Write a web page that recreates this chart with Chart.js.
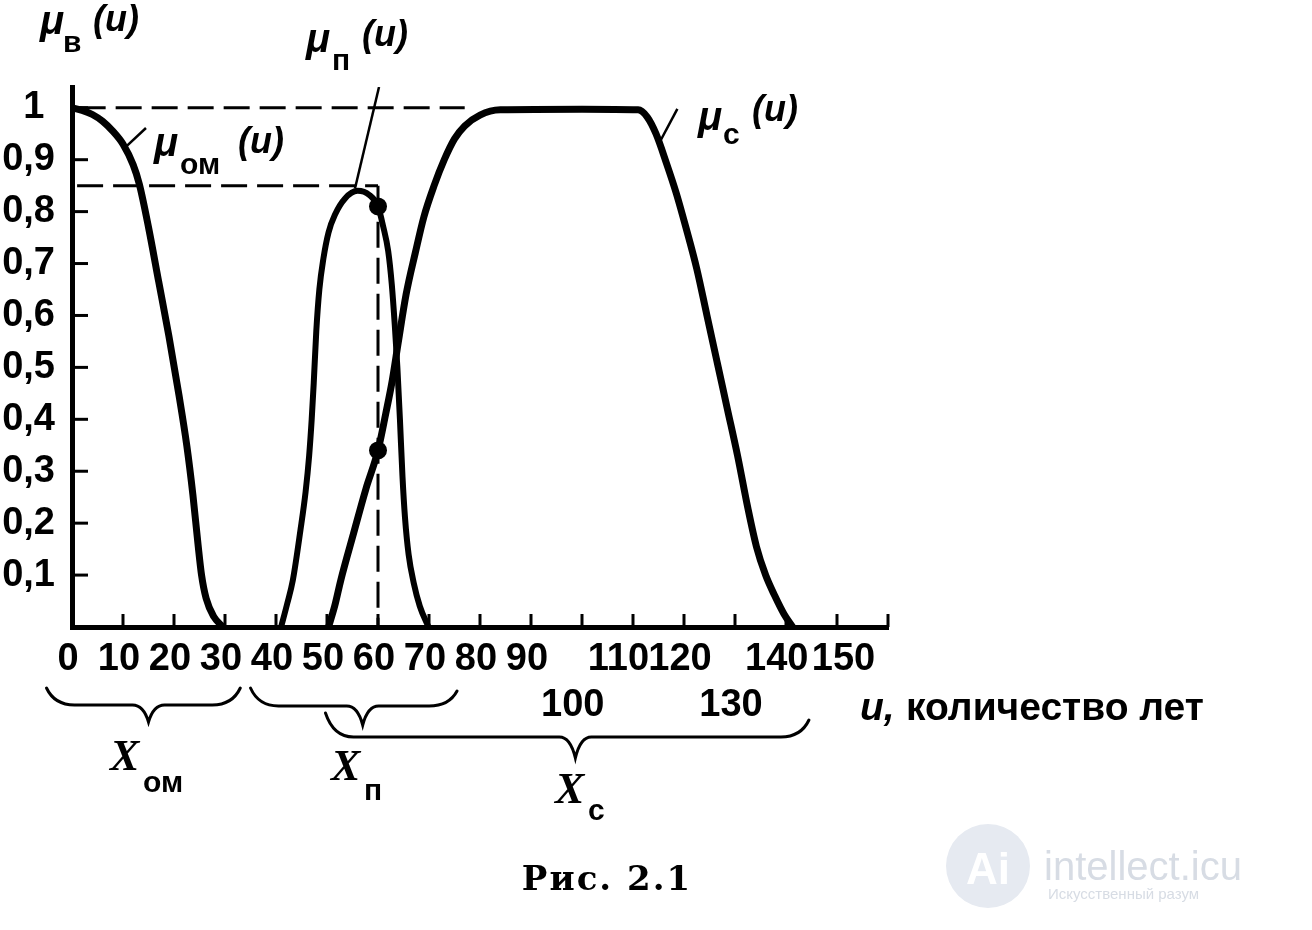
<!DOCTYPE html>
<html lang="ru">
<head>
<meta charset="utf-8">
<title>Рис. 2.1</title>
<script src="https://cdn.jsdelivr.net/npm/chart.js@4.4.1/dist/chart.umd.min.js"></script>
<style>
  html, body { margin: 0; padding: 0; background: #fff; }
  canvas { display: block; }
</style>
</head>
<body>
<canvas id="chart" width="1312" height="930"></canvas>
<script>
// u — возраст (лет), mu — степень принадлежности
const omU  = [0, 2, 4, 6, 8, 10, 12, 13.2, 15, 17, 19, 21, 22.5, 23.7, 24.7, 25.4, 26.3, 27.8, 29.6];
const omMu = [1, 0.995, 0.987, 0.974, 0.955, 0.93, 0.89, 0.853, 0.77, 0.665, 0.56, 0.445, 0.35, 0.255, 0.16, 0.1, 0.055, 0.02, 0];

const pU  = [41, 42.2, 43.3, 44.8, 45.8, 46.5, 47, 47.4, 47.9, 48.5, 49.3, 50.3, 51.6, 53.5, 56, 58.3, 60, 61, 62, 62.7, 63.3, 63.8, 64.3, 64.8, 65.3, 66, 67, 68.2, 69.9];
const pMu = [0, 0.045, 0.09, 0.187, 0.26, 0.33, 0.4, 0.47, 0.57, 0.65, 0.71, 0.76, 0.795, 0.825, 0.84, 0.832, 0.81, 0.772, 0.724, 0.66, 0.58, 0.5, 0.4, 0.29, 0.21, 0.14, 0.085, 0.04, 0];

const cU  = [50.3, 51.5, 52.7, 55.2, 57.6, 60, 61.5, 62.8, 64, 65.5, 67.3, 69, 71, 73, 75, 77, 80, 84, 100, 111, 112.8, 114.5, 116.5, 118.5, 120.5, 122.5, 124.5, 126.5, 128.5, 130.5, 132.5, 134.2, 136, 137.8, 139.6, 141.3];
const cMu = [0, 0.04, 0.09, 0.18, 0.265, 0.34, 0.41, 0.475, 0.55, 0.64, 0.72, 0.79, 0.85, 0.9, 0.94, 0.965, 0.986, 0.996, 0.997, 0.996, 0.982, 0.95, 0.895, 0.835, 0.765, 0.69, 0.6, 0.51, 0.42, 0.33, 0.23, 0.155, 0.1, 0.06, 0.025, 0];

// отмеченные точки при u = 60
const dotU  = [60, 60];
const dotMu = [0.81, 0.34];

// пунктирные линии
const dashTopU = [1.5, 77],  dashTopMu = [1, 1];
const dashMidU = [1, 60],    dashMidMu = [0.85, 0.85];
const dashVertU = [60, 60],  dashVertMu = [0.85, 0];

// выноски к подписям
const leadPU = [60.2, 55.5],   leadPMu = [1.04, 0.845];
const leadOmU = [10.6, 14.5],  leadOmMu = [0.925, 0.961];
const leadCU = [115.3, 118.7], leadCMu = [0.935, 0.998];

// оси
const xTickValues = [0, 10, 20, 30, 40, 50, 60, 70, 80, 90, 100, 110, 120, 130, 140, 150];
const xTickLabels = ['0', '10', '20', '30', '40', '50', '60', '70', '80', '90', '100', '110', '120', '130', '140', '150'];
const xMarks = [10, 20, 30, 40, 50, 60, 70, 80, 90, 100, 110, 120, 130, 140, 150, 160];
const yTickValues = [0.1, 0.2, 0.3, 0.4, 0.5, 0.6, 0.7, 0.8, 0.9, 1];
const yTickLabels = ['0,1', '0,2', '0,3', '0,4', '0,5', '0,6', '0,7', '0,8', '0,9', '1'];

// фигурные скобки: [начало, конец, острие] в годах
const braceOm = [-5, 33, 15];
const braceP  = [35, 75.5, 57];
const braceC  = [49.7, 144.5, 98.7];

const pts = (us, ms) => us.map((u, i) => ({ x: u, y: ms[i] }));

const SANS = '"Liberation Sans", Arial, sans-serif';
const SERIF = '"Liberation Serif", "Times New Roman", serif';

function curve(us, ms, w) {
    return {
        data: pts(us, ms),
        borderColor: '#000',
        borderWidth: w,
        pointRadius: 0,
        cubicInterpolationMode: 'monotone',
        borderCapStyle: 'round',
        borderJoinStyle: 'round',
        fill: false
    };
}

function dashed(us, ms) {
    return {
        data: pts(us, ms),
        borderColor: '#000',
        borderWidth: 3,
        borderDash: [26, 10],
        pointRadius: 0,
        fill: false
    };
}

function thin(us, ms) {
    return {
        data: pts(us, ms),
        borderColor: '#000',
        borderWidth: 2.5,
        pointRadius: 0,
        fill: false
    };
}

// подвижки подписей оси X, чтобы они не наезжали друг на друга
const xLabelTweak = {
    '100': l => ['', l + ' '],
    '130': l => ['', l],
    '110': l => l + '  ',
    '140': l => l + ' ',
    '150': l => '  ' + l
};

function drawBrace(ctx, x1, x2, xt, yTop1, yTop2, yLine, yTip) {
    ctx.beginPath();
    ctx.moveTo(x1, yTop1);
    ctx.quadraticCurveTo(x1 + 8, yLine, x1 + 28, yLine);
    ctx.lineTo(xt - 16, yLine);
    ctx.quadraticCurveTo(xt - 5, yLine, xt, yTip);
    ctx.quadraticCurveTo(xt + 5, yLine, xt + 16, yLine);
    ctx.lineTo(x2 - 28, yLine);
    ctx.quadraticCurveTo(x2 - 8, yLine, x2, yTop2);
    ctx.stroke();
}

function txt(ctx, s, x, y, font) {
    ctx.font = font;
    ctx.fillText(s, x, y);
}

function muLabel(ctx, x, y, sub, subDx, subDy, uDx, uDy) {
    txt(ctx, 'μ', x, y, `italic bold 40px ${SANS}`);
    txt(ctx, sub, x + subDx, y + subDy, `bold 30px ${SANS}`);
    txt(ctx, '(u)', x + uDx, y + uDy, `italic bold 36px ${SANS}`);
}

const decor = {
    id: 'decor',
    afterDraw(chart) {
        const { ctx, chartArea: area, scales: { x, y } } = chart;
        ctx.save();
        ctx.strokeStyle = '#000';
        ctx.fillStyle = '#000';
        ctx.textBaseline = 'alphabetic';
        ctx.textAlign = 'left';

        // короткие засечки внутрь поля
        ctx.lineWidth = 3;
        xMarks.forEach(v => {
            const px = x.getPixelForValue(v);
            ctx.beginPath();
            ctx.moveTo(px, area.bottom);
            ctx.lineTo(px, area.bottom - 13);
            ctx.stroke();
        });
        yTickValues.forEach(v => {
            const py = y.getPixelForValue(v);
            ctx.beginPath();
            ctx.moveTo(area.left, py);
            ctx.lineTo(area.left + 16, py);
            ctx.stroke();
        });

        // скобки под осью
        const b = area.bottom;
        ctx.lineWidth = 3;
        ctx.lineCap = 'round';
        drawBrace(ctx, x.getPixelForValue(braceOm[0]), x.getPixelForValue(braceOm[1]), x.getPixelForValue(braceOm[2]), b + 61, b + 61, b + 78, b + 95);
        drawBrace(ctx, x.getPixelForValue(braceP[0]), x.getPixelForValue(braceP[1]), x.getPixelForValue(braceP[2]), b + 61, b + 64, b + 79, b + 98);
        drawBrace(ctx, x.getPixelForValue(braceC[0]), x.getPixelForValue(braceC[1]), x.getPixelForValue(braceC[2]), b + 86, b + 93, b + 110, b + 131);

        // подписи кривых
        muLabel(ctx, 40, 34, 'в', 23, 18, 53, -3);
        muLabel(ctx, 306, 52, 'п', 26, 18, 56, -6);
        muLabel(ctx, 154, 156, 'ом', 26, 18, 84, -3);
        muLabel(ctx, 698, 130, 'с', 25, 14, 54, -9);

        // подписи множеств
        txt(ctx, 'X', 110, 770, `italic bold 44px ${SERIF}`);
        txt(ctx, 'ом', 143, 792, `bold 30px ${SANS}`);
        txt(ctx, 'X', 331, 780, `italic bold 44px ${SERIF}`);
        txt(ctx, 'п', 364, 800, `bold 30px ${SANS}`);
        txt(ctx, 'X', 555, 803, `italic bold 44px ${SERIF}`);
        txt(ctx, 'с', 588, 820, `bold 30px ${SANS}`);

        // название оси
        txt(ctx, 'u,', 860, 720, `italic bold 39px ${SANS}`);
        txt(ctx, 'количество лет', 906, 720, `bold 39px ${SANS}`);

        // подпись рисунка
        ctx.textAlign = 'center';
        ctx.letterSpacing = '2px';
        txt(ctx, 'Рис. 2.1', 607, 890, `bold 34px "DejaVu Serif", ${SERIF}`);
        ctx.letterSpacing = '0px';

        // водяной знак
        ctx.fillStyle = '#e6eaf1';
        ctx.beginPath();
        ctx.arc(988, 866, 42, 0, Math.PI * 2);
        ctx.fill();
        ctx.fillStyle = '#ffffff';
        txt(ctx, 'Ai', 988, 884, `bold 44px ${SANS}`);
        ctx.textAlign = 'left';
        ctx.fillStyle = '#d7dce4';
        txt(ctx, 'intellect.icu', 1044, 880, `40px ${SANS}`);
        txt(ctx, 'Искусственный разум', 1048, 899, `15px ${SANS}`);

        ctx.restore();
    }
};

new Chart(document.getElementById('chart'), {
    type: 'line',
    data: {
        datasets: [
            dashed(dashTopU, dashTopMu),
            dashed(dashMidU, dashMidMu),
            dashed(dashVertU, dashVertMu),
            thin(leadPU, leadPMu),
            thin(leadOmU, leadOmMu),
            thin(leadCU, leadCMu),
            curve(omU, omMu, 7),
            curve(pU, pMu, 6),
            curve(cU, cMu, 7),
            {
                data: pts(dotU, dotMu),
                showLine: false,
                pointRadius: 9,
                pointBackgroundColor: '#000',
                pointBorderWidth: 0
            }
        ]
    },
    options: {
        responsive: false,
        animation: false,
        events: [],
        devicePixelRatio: 1,
        layout: { padding: { left: 0, top: 87, right: 424, bottom: 0 } },
        plugins: {
            legend: { display: false },
            tooltip: { enabled: false }
        },
        scales: {
            x: {
                type: 'linear',
                min: 0,
                max: 160,
                grid: { display: false, drawTicks: false },
                border: { display: true, width: 5, color: '#000' },
                afterBuildTicks: axis => { axis.ticks = xTickValues.map(v => ({ value: v })); },
                afterFit: axis => { axis.height = 303; },
                ticks: {
                    autoSkip: false,
                    maxRotation: 0,
                    minRotation: 0,
                    padding: 10,
                    labelOffset: -4,
                    color: '#000',
                    font: { family: SANS, size: 38, weight: 'bold', lineHeight: 1.2 },
                    callback: (value, index) => {
                        const l = xTickLabels[index];
                        return xLabelTweak[l] ? xLabelTweak[l](l) : l;
                    }
                }
            },
            y: {
                type: 'linear',
                min: 0,
                max: 1.04,
                grid: { display: false, drawTicks: false },
                border: { display: true, width: 5, color: '#000' },
                afterBuildTicks: axis => { axis.ticks = yTickValues.map(v => ({ value: v })); },
                afterFit: axis => { axis.width = 72; },
                ticks: {
                    padding: 17,
                    color: '#000',
                    font: { family: SANS, size: 38, weight: 'bold' },
                    callback: (value, index) => {
                        const l = yTickLabels[index];
                        return l === '1' ? l + ' ' : l;
                    }
                }
            }
        }
    },
    plugins: [decor]
});
</script>
</body>
</html>
